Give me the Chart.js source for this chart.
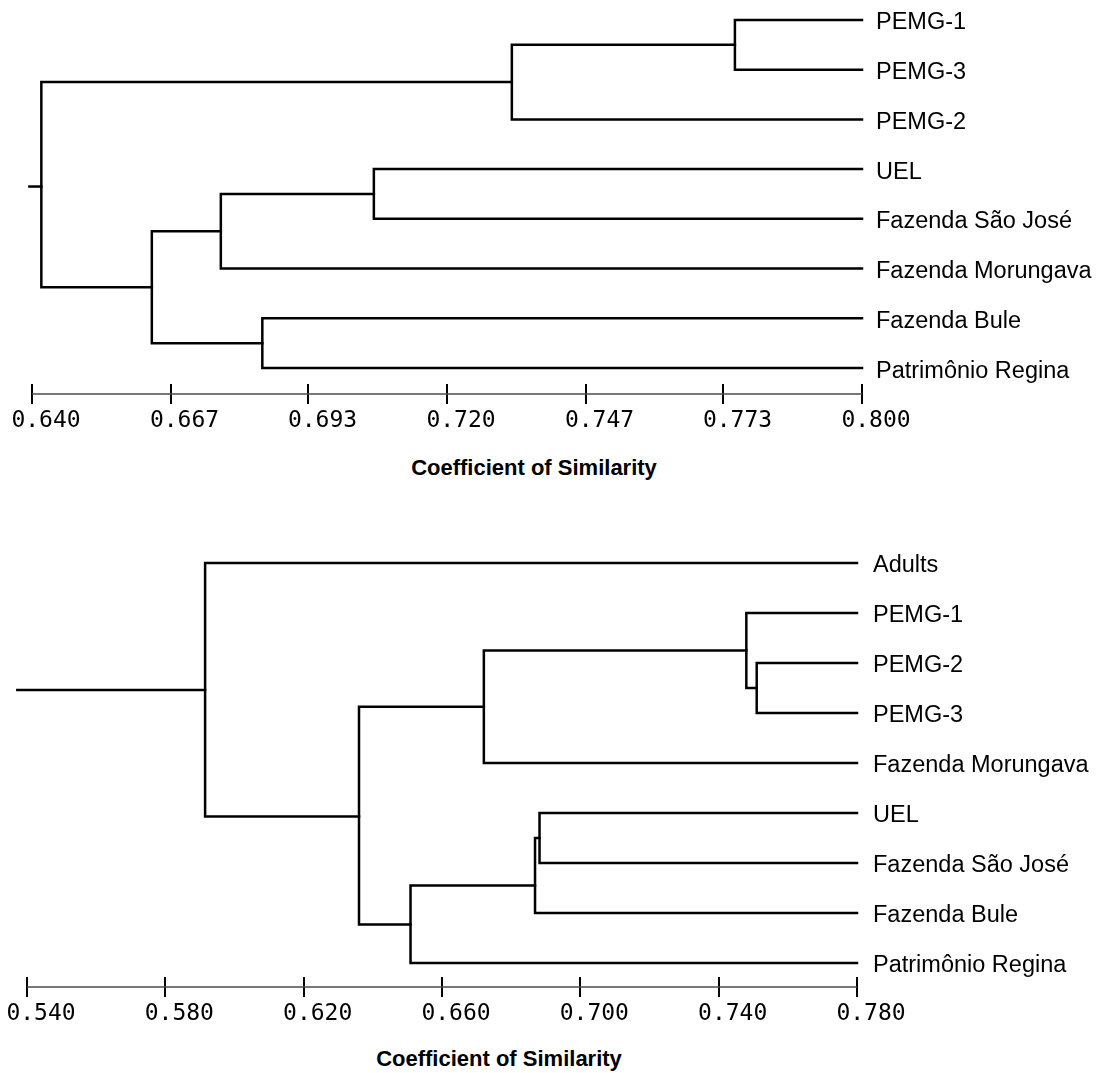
<!DOCTYPE html>
<html>
<head>
<meta charset="utf-8">
<script src="https://cdn.jsdelivr.net/npm/chart.js@4.4.1/dist/chart.umd.min.js"></script>
<style>
    html, body { margin: 0; padding: 0; background: #fff; }
    body { width: 1098px; height: 1073px; position: relative; overflow: hidden; }
    canvas { position: absolute; left: 0; }
    .axis-title {
        position: absolute;
        font: bold 22px "Liberation Sans", Arial, sans-serif;
        color: #000;
        white-space: nowrap;
        transform: translateX(-50%);
    }
</style>
</head>
<body>
<canvas id="chartTop" width="1098" height="440" style="top:0"></canvas>
<div class="axis-title" style="left:534px; top:455px">Coefficient of Similarity</div>
<canvas id="chartBottom" width="1098" height="503" style="top:530px"></canvas>
<div class="axis-title" style="left:499px; top:1046px">Coefficient of Similarity</div>

<script>
// 위쪽 덴드로그램 (잎 순서는 위에서 아래로)
const topLeaves = ['PEMG-1', 'PEMG-3', 'PEMG-2', 'UEL', 'Fazenda São José', 'Fazenda Morungava', 'Fazenda Bule', 'Patrimônio Regina'];
// 병합: 자식 id (0~7 = 잎, 8~ = 병합 노드)
const topPairs = [[0, 1], [8, 2], [3, 4], [10, 5], [6, 7], [11, 12], [9, 13]];
const topHeights = [0.7755, 0.7325, 0.7059, 0.6764, 0.6844, 0.6631, 0.6418];
const topJoinY = [0.5, 1.25, 3.5, 4.25, 6.5, 5.375, 3.35];
const topRootStart = 0.6395;
const topTickValues = [0.640, 0.6667, 0.6933, 0.720, 0.7467, 0.7733, 0.800];
const topTickLabels = ['0.640', '0.667', '0.693', '0.720', '0.747', '0.773', '0.800'];

// 아래쪽 덴드로그램
const bottomLeaves = ['Adults', 'PEMG-1', 'PEMG-2', 'PEMG-3', 'Fazenda Morungava', 'UEL', 'Fazenda São José', 'Fazenda Bule', 'Patrimônio Regina'];
const bottomPairs = [[2, 3], [1, 9], [10, 4], [5, 6], [12, 7], [13, 8], [11, 14], [0, 15]];
const bottomHeights = [0.7510, 0.7480, 0.6721, 0.6882, 0.6869, 0.6509, 0.6360, 0.5915];
const bottomJoinY = [2.5, 1.75, 2.875, 5.5, 6.45, 7.23, 5.07, 2.54];
const bottomRootStart = 0.5372;
const bottomTickValues = [0.540, 0.580, 0.620, 0.660, 0.700, 0.740, 0.780];
const bottomTickLabels = ['0.540', '0.580', '0.620', '0.660', '0.700', '0.740', '0.780'];

function buildDatasets(leaves, pairs, heights, joinY, leafX, rootStart) {
    const n = leaves.length;
    const pos = id => id < n ? { x: leafX, y: id } : { x: heights[id - n], y: joinY[id - n] };
    const sets = pairs.map((pair, k) => {
        const a = pos(pair[0]);
        const b = pos(pair[1]);
        const h = heights[k];
        return { data: [{ x: a.x, y: a.y }, { x: h, y: a.y }, { x: h, y: b.y }, { x: b.x, y: b.y }] };
    });
    const last = pairs.length - 1;
    sets.push({ data: [{ x: rootStart, y: joinY[last] }, { x: heights[last], y: joinY[last] }] });
    return sets.map(s => Object.assign(s, {
        showLine: true, borderColor: '#000', borderWidth: 2.5, pointRadius: 0,
        borderJoinStyle: 'miter', borderCapStyle: 'square', clip: false
    }));
}

// 축 기준선 (눈금 가운데를 지나는 선)
const baselinePlugin = {
    id: 'baseline',
    afterDraw(chart) {
        const x = chart.scales.x;
        const y = chart.chartArea.bottom + 10;
        const c = chart.ctx;
        c.save();
        c.strokeStyle = '#4a4a4a';
        c.lineWidth = 1.5;
        c.beginPath();
        c.moveTo(x.getPixelForValue(x.min), y);
        c.lineTo(x.getPixelForValue(x.max), y);
        c.stroke();
        c.restore();
    }
};

function makeChart(id, cfg) {
    return new Chart(document.getElementById(id), {
        type: 'scatter',
        data: { datasets: buildDatasets(cfg.leaves, cfg.pairs, cfg.heights, cfg.joinY, cfg.max, cfg.rootStart) },
        options: {
            responsive: false,
            animation: false,
            layout: { padding: { top: cfg.padTop, left: cfg.padLeft, right: 0, bottom: 0 } },
            plugins: { legend: { display: false }, tooltip: { enabled: false } },
            scales: {
                x: {
                    type: 'linear', min: cfg.min, max: cfg.max,
                    border: { display: false },
                    grid: { drawOnChartArea: false, drawTicks: true, tickLength: 20, color: '#000', lineWidth: 2 },
                    ticks: {
                        font: { family: 'DejaVu Sans Mono', size: 23 }, color: '#000',
                        padding: 3, labelOffset: 14, maxRotation: 0, autoSkip: false,
                        callback: (v, i) => cfg.tickLabels[i]
                    },
                    afterBuildTicks: s => { s.ticks = cfg.tickValues.map(v => ({ value: v })); },
                    afterFit: s => { s.paddingLeft = 0; s.paddingRight = 0; s.height = 56; }
                },
                y: {
                    type: 'linear', position: 'right', reverse: true, min: -0.4, max: cfg.yMax,
                    border: { display: false },
                    grid: { display: false, drawTicks: false },
                    ticks: {
                        font: { family: 'Liberation Sans', size: 23.5 }, color: '#000',
                        padding: cfg.labelPad, labelOffset: 3, autoSkip: false,
                        callback: v => cfg.leaves[v]
                    },
                    afterBuildTicks: s => { s.ticks = cfg.leaves.map((_, i) => ({ value: i })); },
                    afterFit: s => { s.width = cfg.labelWidth; s.paddingTop = 0; s.paddingBottom = 0; }
                }
            }
        },
        plugins: [baselinePlugin]
    });
}

makeChart('chartTop', {
    leaves: topLeaves, pairs: topPairs, heights: topHeights, joinY: topJoinY, rootStart: topRootStart,
    tickValues: topTickValues, tickLabels: topTickLabels,
    min: 0.640, max: 0.800, yMax: 7.32, padTop: 0, padLeft: 32, labelWidth: 236, labelPad: 14
});

makeChart('chartBottom', {
    leaves: bottomLeaves, pairs: bottomPairs, heights: bottomHeights, joinY: bottomJoinY, rootStart: bottomRootStart,
    tickValues: bottomTickValues, tickLabels: bottomTickLabels,
    min: 0.540, max: 0.780, yMax: 8.28, padTop: 13, padLeft: 27, labelWidth: 241, labelPad: 16
});
</script>
</body>
</html>
